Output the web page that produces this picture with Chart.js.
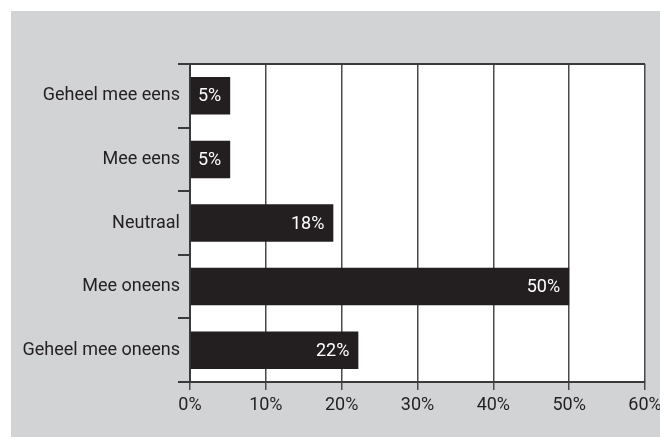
<!DOCTYPE html>
<html>
<head>
<meta charset="utf-8">
<script src="https://cdn.jsdelivr.net/npm/chart.js@4/dist/chart.umd.min.js"></script>
<style>
  html, body { margin: 0; padding: 0; background: #ffffff; }
  #wrap { position: relative; width: 660px; height: 437px; }
</style>
</head>
<body>
<div id="wrap"><canvas id="agreeChart" width="660" height="437"></canvas></div>
<script>
const categories = ['Geheel mee eens', 'Mee eens', 'Neutraal', 'Mee oneens', 'Geheel mee oneens'];
const shares = [5.3, 5.3, 18.9, 50, 22.2];
const shareLabels = ['5%', '5%', '18%', '50%', '22%'];
const xTicks = [0, 10, 20, 30, 40, 50, 60];

const FONT = 'Roboto, "Liberation Sans", sans-serif';
const INK = '#231f20';

// gray panel behind everything, white plot area with a frame
const backdrop = {
  id: 'backdrop',
  beforeDraw(chart) {
    const { ctx, chartArea: a } = chart;
    ctx.save();
    ctx.fillStyle = '#d1d3d4';
    ctx.fillRect(11, 11, chart.width - 11, chart.height - 11);
    ctx.fillStyle = '#ffffff';
    ctx.fillRect(a.left, a.top, a.right - a.left, a.bottom - a.top);
    ctx.restore();
  },
  afterDraw(chart) {
    const { ctx, chartArea: a } = chart;
    ctx.save();
    ctx.strokeStyle = '#3a3a3a';
    ctx.lineWidth = 2;
    ctx.beginPath();
    ctx.moveTo(a.left - 12, a.top);
    ctx.lineTo(a.right, a.top);
    ctx.stroke();
    ctx.restore();
  },
};

// value labels inside the bar ends
const barLabels = {
  id: 'barLabels',
  afterDatasetsDraw(chart) {
    const { ctx } = chart;
    const meta = chart.getDatasetMeta(0);
    ctx.save();
    ctx.fillStyle = '#ffffff';
    ctx.font = '18px ' + FONT;
    ctx.textAlign = 'right';
    ctx.textBaseline = 'middle';
    meta.data.forEach((bar, i) => {
      ctx.fillText(shareLabels[i], bar.x - 9, bar.y + 1);
    });
    ctx.restore();
  },
};

new Chart(document.getElementById('agreeChart'), {
  type: 'bar',
  data: {
    labels: categories,
    datasets: [{
      data: shares,
      backgroundColor: INK,
      borderWidth: 0,
      barPercentage: 0.59,
      categoryPercentage: 1,
    }],
  },
  options: {
    indexAxis: 'y',
    responsive: false,
    animation: false,
    events: [],
    layout: { padding: { top: 64, right: 15, left: 0, bottom: 0 } },
    plugins: {
      legend: { display: false },
      tooltip: { enabled: false },
    },
    scales: {
      x: {
        min: 0,
        max: 60,
        afterBuildTicks(axis) {
          axis.ticks = xTicks.map((v) => ({ value: v }));
        },
        afterFit(axis) {
          axis.height = 55;
          axis.paddingLeft = 0;
          axis.paddingRight = 0;
        },
        grid: {
          color: '#4a4a4a',
          lineWidth: 1.5,
          tickLength: 8,
        },
        border: { color: '#3a3a3a', width: 2 },
        ticks: {
          color: INK,
          font: { family: FONT, size: 18 },
          padding: 5,
          callback: (v) => v + '%',
        },
      },
      y: {
        afterFit(axis) {
          axis.width = 190;
        },
        grid: {
          drawOnChartArea: false,
          color: '#3a3a3a',
          lineWidth: 2,
          tickLength: 12,
        },
        border: { color: '#3a3a3a', width: 2 },
        ticks: {
          color: INK,
          font: { family: FONT, size: 18 },
          padding: -2,
        },
      },
    },
  },
  plugins: [backdrop, barLabels],
});
</script>
</body>
</html>
